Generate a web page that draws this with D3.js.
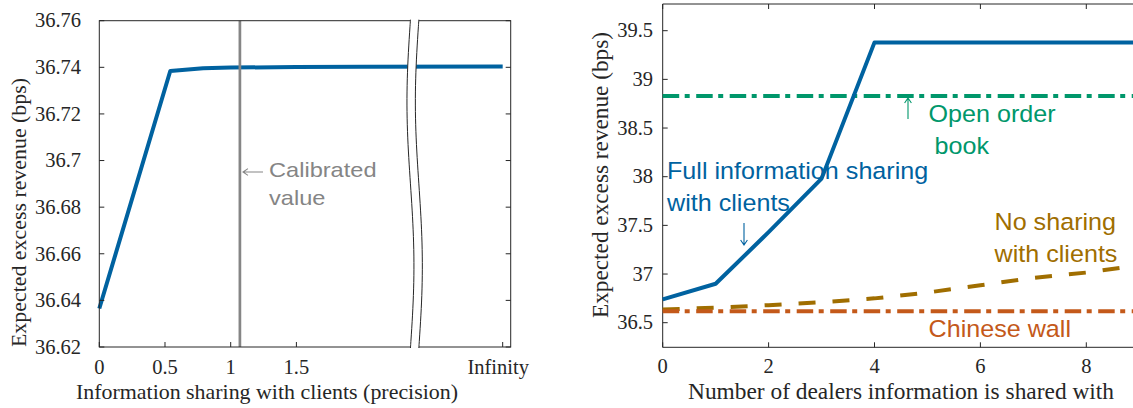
<!DOCTYPE html>
<html>
<head>
<meta charset="utf-8">
<script src="https://cdn.jsdelivr.net/npm/d3@7"></script>
<style>
  body { margin: 0; background: #fff; }
  svg { display: block; }
  .tick-label { font-family: "Liberation Serif", "Times New Roman", serif; font-size: 20.5px; fill: #262626; }
  .axis-title { font-family: "Liberation Serif", "Times New Roman", serif; fill: #262626; }
  .note { font-family: "Liberation Sans", Arial, sans-serif; }
</style>
</head>
<body>
<svg id="chart" width="1133" height="408"></svg>
<script>
// ── Data: left panel (precision of information shared) ─────────────────────────
const INF_POS = 3.07;                 // where "Infinity" sits on the broken axis
const precision = [0, 0.54, 0.79, 1.0, 1.5, 2.0, INF_POS];
const revenueByPrecision = [36.6365, 36.7384, 36.7396, 36.7399, 36.7401, 36.7402, 36.7403];
const precisionTicks = [0, 0.5, 1, 1.5, INF_POS];
const precisionTickLabels = ["0", "0.5", "1", "1.5", "Infinity"];
const leftYTicks = [36.62, 36.64, 36.66, 36.68, 36.7, 36.72, 36.74, 36.76];
const calibratedPrecision = 1.07;
const breakAt = 2.4;

// ── Data: right panel (number of dealers) ──────────────────────────────────────
const dealers = [0, 1, 2, 3, 4, 5, 6, 7, 8, 9, 10];
const fullSharing = [36.74, 36.9, 37.43, 37.98, 39.38, 39.38, 39.38, 39.38, 39.38, 39.38, 39.38];
const noSharing = [36.635, 36.655, 36.68, 36.71, 36.75, 36.81, 36.885, 36.96, 37.015, 37.09, 37.15];
const openOrderBook = 38.83;
const chineseWall = 36.617;
const dealerTicks = [0, 2, 4, 6, 8];
const rightYTicks = [36.5, 37, 37.5, 38, 38.5, 39, 39.5];

const AXIS = "#262626";
const BLUE = "#0062a0", GREEN = "#00976b", GOLD = "#a06e00", ORANGE = "#c4591a", GRAY = "#858585";

const svg = d3.select("#chart");

// ── Helpers ───────────────────────────────────────────────────────────────────
// annotation text in the original is set wide, hence the x-stretch
function note(g, x, y, text, color, size, stretch) {
  g.append("text").attr("class", "note").style("font-size", size + "px")
    .attr("transform", `translate(${x},${y}) scale(${stretch},1)`)
    .attr("fill", color).text(text);
}

function arrow(g, x1, y1, x2, y2, color) {
  const a = Math.atan2(y2 - y1, x2 - x1), h = 6;
  const p = d3.path();
  p.moveTo(x1, y1); p.lineTo(x2, y2);
  p.moveTo(x2 - h * Math.cos(a - 0.6), y2 - h * Math.sin(a - 0.6));
  p.lineTo(x2, y2);
  p.lineTo(x2 - h * Math.cos(a + 0.6), y2 - h * Math.sin(a + 0.6));
  g.append("path").attr("d", p.toString()).attr("fill", "none")
    .attr("stroke", color).attr("stroke-width", 1.1);
}

function title(g, x, y, text, size, len, rotate) {
  g.append("text").attr("class", "axis-title").style("font-size", size + "px")
    .attr("text-anchor", "middle")
    .attr("transform", `translate(${x},${y})` + (rotate ? " rotate(-90)" : ""))
    .attr("textLength", len).attr("lengthAdjust", "spacingAndGlyphs").text(text);
}

// ── Left panel ────────────────────────────────────────────────────────────────
(function leftPanel() {
  const x = d3.scaleLinear().domain([0, 3.131]).range([99.3, 510.7]);
  const y = d3.scaleLinear().domain([36.62, 36.76]).range([347, 20.7]);
  const g = svg.append("g");

  g.append("path").datum(precision.map((p, i) => [p, revenueByPrecision[i]]))
    .attr("fill", "none").attr("stroke", BLUE).attr("stroke-width", 4)
    .attr("stroke-linejoin", "round")
    .attr("d", d3.line().x(d => x(d[0])).y(d => y(d[1])));

  // calibrated value marker
  g.append("line").attr("x1", x(calibratedPrecision)).attr("x2", x(calibratedPrecision))
    .attr("y1", y(36.76)).attr("y2", y(36.62)).attr("stroke", GRAY).attr("stroke-width", 2.7);

  g.append("rect").attr("x", x(0)).attr("y", y(36.76))
    .attr("width", x(3.131) - x(0)).attr("height", y(36.62) - y(36.76))
    .attr("fill", "none").attr("stroke", AXIS).attr("stroke-width", 1);

  leftYTicks.forEach(v => {
    g.append("line").attr("x1", x(0)).attr("x2", x(0) + 5).attr("y1", y(v)).attr("y2", y(v)).attr("stroke", AXIS);
    g.append("line").attr("x1", x(3.131) - 5).attr("x2", x(3.131)).attr("y1", y(v)).attr("y2", y(v)).attr("stroke", AXIS);
    g.append("text").attr("class", "tick-label").attr("x", 81).attr("y", y(v)).attr("dy", "0.33em")
      .attr("text-anchor", "end").text(d3.format("")(v));
  });

  precisionTicks.forEach((v, i) => {
    g.append("line").attr("x1", x(v)).attr("x2", x(v)).attr("y1", y(36.62)).attr("y2", y(36.62) - 5).attr("stroke", AXIS);
    g.append("text").attr("class", "tick-label").attr("x", x(v) - (v === INF_POS ? 4.5 : 0)).attr("y", 374)
      .attr("text-anchor", "middle").text(precisionTickLabels[i]);
  });

  // axis break: white band between two wavy lines
  const top = y(36.76) - 1, bot = y(36.62) + 1, cx = x(breakAt), amp = 3.5, half = 4.2;
  const ts = d3.range(0, 1.0001, 0.02);
  const wave = off => ts.map(t => [cx + off - amp * Math.sin(2 * Math.PI * t), top + t * (bot - top)]);
  const left = wave(-half), right = wave(half);
  g.append("path").attr("fill", "#fff").attr("stroke", "none")
    .attr("d", d3.line()(left.concat(right.slice().reverse())) + "Z");
  [left, right].forEach(pts => g.append("path").attr("fill", "none").attr("stroke", AXIS)
    .attr("stroke-width", 1).attr("d", d3.line().curve(d3.curveBasis)(pts)));

  note(g, 269, 176.7, "Calibrated", GRAY, 20, 1.18);
  note(g, 269, 205.3, "value", GRAY, 20, 1.18);
  arrow(g, 263, 172, 243, 172, GRAY);

  title(g, 26, 212.5, "Expected excess revenue (bps)", 21, 269, true);
  title(g, 267, 399, "Information sharing with clients (precision)", 21, 382, false);
})();

// ── Right panel ───────────────────────────────────────────────────────────────
(function rightPanel() {
  const x = d3.scaleLinear().domain([0, 10]).range([662.7, 662.7 + 5 * 105.9]);
  const y = d3.scaleLinear().domain([36.5, 39.5]).range([322.7, 30.7]);
  const yTop = 4, yBot = 347.3;
  const g = svg.append("g");
  const line = d3.line().x(d => x(d[0])).y(d => y(d[1]));

  // box (its right edge falls outside the picture)
  g.append("line").attr("x1", x(0)).attr("x2", 1140).attr("y1", yTop).attr("y2", yTop).attr("stroke", AXIS);
  g.append("line").attr("x1", x(0)).attr("x2", 1140).attr("y1", yBot).attr("y2", yBot).attr("stroke", AXIS);
  g.append("line").attr("x1", x(0)).attr("x2", x(0)).attr("y1", yTop).attr("y2", yBot).attr("stroke", AXIS);

  rightYTicks.forEach(v => {
    g.append("line").attr("x1", x(0)).attr("x2", x(0) + 5).attr("y1", y(v)).attr("y2", y(v)).attr("stroke", AXIS);
    g.append("text").attr("class", "tick-label").attr("x", 653).attr("y", y(v)).attr("dy", "0.33em")
      .attr("text-anchor", "end").text(d3.format("")(v));
  });
  dealerTicks.forEach(v => {
    g.append("line").attr("x1", x(v)).attr("x2", x(v)).attr("y1", yBot).attr("y2", yBot - 5).attr("stroke", AXIS);
    g.append("line").attr("x1", x(v)).attr("x2", x(v)).attr("y1", yTop).attr("y2", yTop + 5).attr("stroke", AXIS);
    g.append("text").attr("class", "tick-label").attr("x", x(v)).attr("y", 373)
      .attr("text-anchor", "middle").text(v);
  });

  const dashDot = "16.5,5.5,5,6.5";
  g.append("path").datum([[0, openOrderBook], [10, openOrderBook]]).attr("d", line)
    .attr("stroke", GREEN).attr("stroke-width", 4).attr("stroke-dasharray", dashDot).attr("fill", "none");
  g.append("path").datum(dealers.map((d, i) => [d, noSharing[i]])).attr("d", line)
    .attr("stroke", GOLD).attr("stroke-width", 4).attr("stroke-dasharray", "17,17").attr("fill", "none");
  g.append("path").datum([[0, chineseWall], [10, chineseWall]]).attr("d", line)
    .attr("stroke", ORANGE).attr("stroke-width", 4).attr("stroke-dasharray", dashDot).attr("fill", "none");
  g.append("path").datum(dealers.map((d, i) => [d, fullSharing[i]])).attr("d", line)
    .attr("stroke", BLUE).attr("stroke-width", 4).attr("stroke-linejoin", "round").attr("fill", "none");

  const fs = 23.5, st = 1.07;
  note(g, 667, 178.5, "Full information sharing", BLUE, fs, st);
  note(g, 667, 210.5, "with clients", BLUE, fs, st);
  arrow(g, 744, 223, 744, 245, BLUE);
  note(g, 928.5, 121.7, "Open order", GREEN, fs, st);
  note(g, 934.5, 154, "book", GREEN, fs, st);
  arrow(g, 908, 119, 908, 98, GREEN);
  note(g, 994.5, 230, "No sharing", GOLD, fs, st);
  note(g, 994.5, 261.7, "with clients", GOLD, fs, st);
  note(g, 928.5, 337.3, "Chinese wall", ORANGE, fs, st);

  title(g, 608, 175, "Expected excess revenue (bps)", 22.5, 286, true);
  title(g, 901, 399, "Number of dealers information is shared with", 22.5, 426, false);
})();
</script>
</body>
</html>
